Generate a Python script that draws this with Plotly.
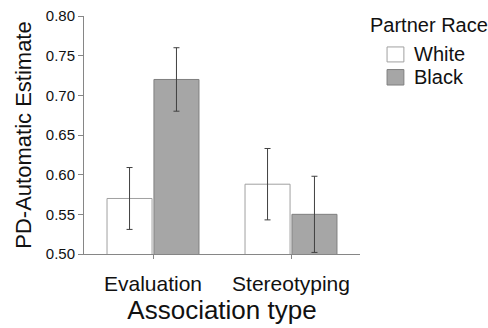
import plotly.graph_objects as go

categories = ["Evaluation", "Stereotyping"]
white_vals = [0.570, 0.588]
white_err = [0.039, 0.045]
black_vals = [0.720, 0.550]
black_err = [0.040, 0.048]
y_ticks = [0.50, 0.55, 0.60, 0.65, 0.70, 0.75, 0.80]
series_names = ["White", "Black"]
fill_colors = ["#ffffff", "#a6a6a6"]
edge_colors = ["#a0a0a0", "#7f7f7f"]

FONT = "Liberation Sans, Arial, sans-serif"

fig = go.Figure()
for name, vals, errs, fc, ec in zip(series_names, [white_vals, black_vals],
                                    [white_err, black_err], fill_colors, edge_colors):
    fig.add_trace(go.Bar(
        name=name, x=categories, y=vals, showlegend=False,
        marker=dict(color=fc, line=dict(color=ec, width=1)),
        error_y=dict(type="data", array=errs, color="#404040", thickness=1, width=3),
    ))

# manual legend (paper coordinates)
shapes = []
annotations = [dict(text="Partner Race", xref="paper", yref="paper",
                    x=1.029, y=0.962, xanchor="left", yanchor="middle",
                    showarrow=False, font=dict(size=20, family=FONT))]
legend_y = [(0.807, 0.870), (0.710, 0.775)]
for name, fc, ec, (y0, y1) in zip(series_names, fill_colors, edge_colors, legend_y):
    shapes.append(dict(type="rect", xref="paper", yref="paper",
                       x0=1.098, x1=1.159, y0=y0, y1=y1,
                       fillcolor=fc, line=dict(color=ec, width=1)))
    annotations.append(dict(text=name, xref="paper", yref="paper",
                            x=1.188, y=(y0 + y1) / 2, xanchor="left", yanchor="middle",
                            showarrow=False, font=dict(size=20, family=FONT)))

fig.update_layout(
    width=488, height=328,
    margin=dict(l=84, r=128, t=16, b=74),
    paper_bgcolor="white", plot_bgcolor="white",
    font=dict(family=FONT, color="#111111"),
    barmode="group", bargap=0.32, bargroupgap=0.04,
    showlegend=False,
    shapes=shapes, annotations=annotations,
)
fig.update_yaxes(
    range=[0.5, 0.8], tickvals=y_ticks, tickformat=".2f",
    showline=True, linecolor="#868686", linewidth=1,
    ticks="outside", ticklen=5, tickcolor="#868686",
    showgrid=False, zeroline=False, automargin=False,
    tickfont=dict(size=15, family=FONT),
    title=dict(text="PD-Automatic Estimate", font=dict(size=22, family=FONT), standoff=8),
)
fig.update_xaxes(
    showline=True, linecolor="#868686", linewidth=1,
    ticks="outside", ticklen=4, tickcolor="#868686",
    showgrid=False, automargin=False, ticklabelstandoff=7,
    tickfont=dict(size=21, family=FONT),
    title=dict(text="Association type", font=dict(size=26, family=FONT), standoff=2),
)

fig.write_html("out.html", config={"displayModeBar": False},
               post_script="document.body.style.margin='0';")
